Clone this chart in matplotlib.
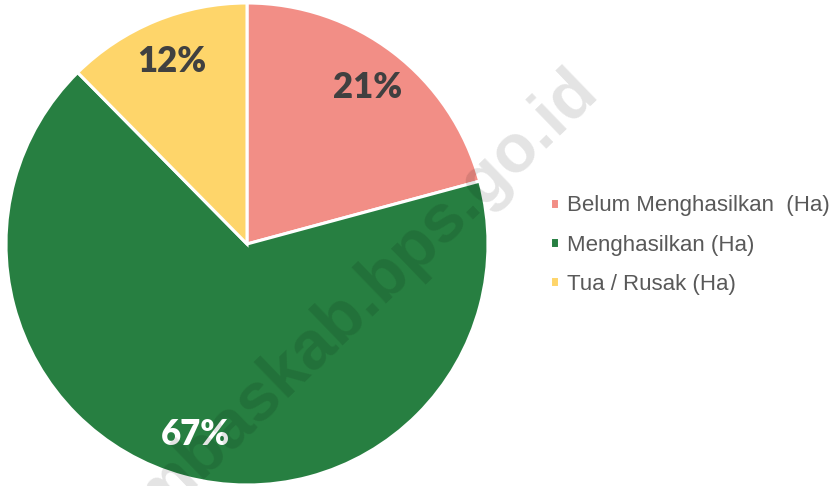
import matplotlib
matplotlib.use("Agg")

import matplotlib.pyplot as plt

labels = ["Belum Menghasilkan  (Ha)", "Menghasilkan (Ha)", "Tua / Rusak (Ha)"]
values = [20.8, 66.8, 12.4]
colors = ["#F28E86", "#277F41", "#FED56A"]
label_colors = ["#404040", "#FFFFFF", "#404040"]

fig = plt.figure(figsize=(8.37, 4.86), dpi=100)

# pie axes: centre (247, 244) px, radius 241 px
cx, cy, r = 247, 244, 241
W, H = 837, 486
ax = fig.add_axes([(cx - r) / W, (H - cy - r) / H, 2 * r / W, 2 * r / H])

wedges, texts, autotexts = ax.pie(
    values, colors=colors, startangle=90, counterclock=False,
    autopct="%.0f%%", pctdistance=0.82, radius=1,
    wedgeprops=dict(edgecolor="white", linewidth=2.2),
)
for t, c in zip(autotexts, label_colors):
    t.set_color(c)
    t.set_fontsize(25)
    t.set_fontweight("heavy")
    t.set_family(["Lato", "DejaVu Sans"])
    t.set_zorder(5)
ax.set_xlim(-1, 1)
ax.set_ylim(-1, 1)
ax.set_aspect("equal")
ax.axis("off")

leg = fig.legend(
    wedges, labels, loc="center left", bbox_to_anchor=(530 / W, 1 - 245 / H),
    frameon=False, handlelength=0.4, handleheight=0.4, handletextpad=0.35,
    labelspacing=0.82, prop=dict(family="Liberation Sans", size=16),
    labelcolor="#595959",
)

# watermark
fig.text(600 / W, 1 - 93 / H, "mbaskab.bps.go.id", rotation=44,
         rotation_mode="anchor", ha="right", va="baseline",
         fontsize=49, fontweight="bold", family="Liberation Sans",
         color="black", alpha=0.11, zorder=4)

fig.savefig("out.png", dpi=100)
